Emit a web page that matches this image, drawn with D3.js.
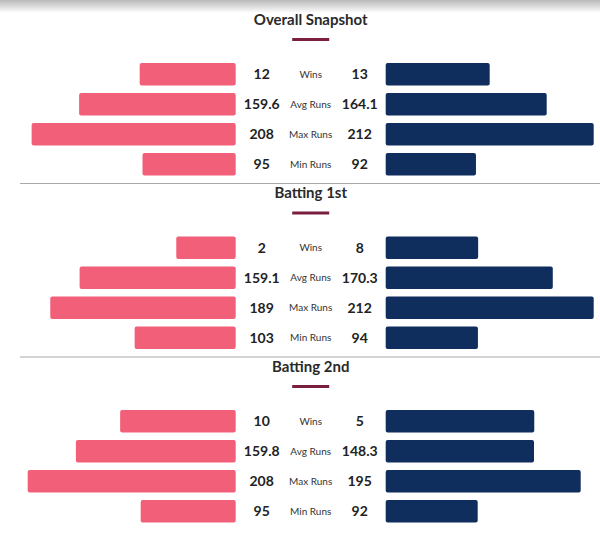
<!DOCTYPE html>
<html>
<head>
<meta charset="utf-8">
<script src="https://cdn.jsdelivr.net/npm/d3@7"></script>
<style>
  body { margin: 0; background: #fff; }
  svg { display: block; font-family: Lato, "Open Sans", sans-serif; }
</style>
</head>
<body>
<svg class="chart" width="600" height="545"></svg>
<script>
// Section titles and stat rows
const sections = ["Overall Snapshot", "Batting 1st", "Batting 2nd"];
const statLabels = ["Wins", "Avg Runs", "Max Runs", "Min Runs"];

// Values per section: [wins, avg runs, max runs, min runs]
const teamAValues = [
  [12, 159.6, 208, 95],
  [2, 159.1, 189, 103],
  [10, 159.8, 208, 95]
];
const teamBValues = [
  [13, 164.1, 212, 92],
  [8, 170.3, 212, 94],
  [5, 148.3, 195, 92]
];
// Matches played per section (win bars show win share)
const teamAMatches = [26, 7, 18];
const teamBMatches = [26, 18, 7];

const svg = d3.select(".chart");
const width = +svg.attr("width");
const cx = 310.7;
const gap = 75;          // half gap between the two bar sides
const barMax = 208;
const sectionH = 173.5;
const rowTop = 63;
const rowStep = 30;
const barH = 22.5;

const colorA = "#f15f79";
const colorB = "#0f2d5d";

const winScale = d3.scaleLinear().domain([0, 1]).range([0, barMax]);
const rowY = d3.scaleLinear().domain([0, 1]).range([rowTop, rowTop + rowStep]);

// top shadow
const defs = svg.append("defs");
const grad = defs.append("linearGradient")
  .attr("id", "topShade")
  .attr("x1", 0).attr("y1", 0).attr("x2", 0).attr("y2", 1);
grad.append("stop").attr("offset", "0%").attr("stop-color", "#b9b9b9");
grad.append("stop").attr("offset", "100%").attr("stop-color", "#ffffff");
svg.append("rect")
  .attr("x", 0).attr("y", 0)
  .attr("width", width).attr("height", 13)
  .attr("fill", "url(#topShade)");

sections.forEach((title, s) => {
  // runs bars are scaled to the biggest run value of the section
  const runMax = d3.max(teamAValues[s].slice(1).concat(teamBValues[s].slice(1)));
  const runScale = d3.scaleLinear().domain([0, runMax]).range([0, barMax]);
  const barWidth = (v, i, matches) => i === 0 ? winScale(v / matches) : runScale(v);

  const g = svg.append("g").attr("transform", `translate(0,${s * sectionH})`);

  g.append("text")
    .attr("x", cx)
    .attr("y", 24.5)
    .attr("text-anchor", "middle")
    .style("font-size", "15px")
    .style("font-weight", "700")
    .attr("fill", "#2a2a2a")
    .text(title);

  g.append("rect")
    .attr("x", cx - 18.5)
    .attr("y", 38)
    .attr("width", 37)
    .attr("height", 3)
    .attr("fill", "#7a1f40");

  const rows = g.selectAll(".row")
    .data(statLabels)
    .enter()
    .append("g")
    .attr("class", "row")
    .attr("transform", (d, i) => `translate(0,${rowY(i)})`);

  // left bars (team A)
  rows.append("rect")
    .attr("x", (d, i) => cx - gap - barWidth(teamAValues[s][i], i, teamAMatches[s]))
    .attr("y", 0)
    .attr("width", (d, i) => barWidth(teamAValues[s][i], i, teamAMatches[s]))
    .attr("height", barH)
    .attr("rx", 2)
    .attr("fill", colorA);

  // right bars (team B)
  rows.append("rect")
    .attr("x", cx + gap)
    .attr("y", 0)
    .attr("width", (d, i) => barWidth(teamBValues[s][i], i, teamBMatches[s]))
    .attr("height", barH)
    .attr("rx", 2)
    .attr("fill", colorB);

  rows.append("text")
    .attr("x", cx - 49)
    .attr("y", barH / 2)
    .attr("dy", "0.36em")
    .attr("text-anchor", "middle")
    .style("font-size", "14px")
    .style("font-weight", "700")
    .attr("fill", "#222")
    .text((d, i) => teamAValues[s][i]);

  rows.append("text")
    .attr("x", cx + 49)
    .attr("y", barH / 2)
    .attr("dy", "0.36em")
    .attr("text-anchor", "middle")
    .style("font-size", "14px")
    .style("font-weight", "700")
    .attr("fill", "#222")
    .text((d, i) => teamBValues[s][i]);

  rows.append("text")
    .attr("x", cx)
    .attr("y", barH / 2)
    .attr("dy", "0.35em")
    .attr("text-anchor", "middle")
    .style("font-size", "10px")
    .attr("fill", "#333")
    .text(d => d);

  // separator under the section
  if (s < sections.length - 1) {
    g.append("line")
      .attr("x1", 20).attr("x2", width)
      .attr("y1", 183.5).attr("y2", 183.5)
      .attr("stroke", "#aaaaaa")
      .attr("stroke-width", 1.2);
  }
});
</script>
</body>
</html>
